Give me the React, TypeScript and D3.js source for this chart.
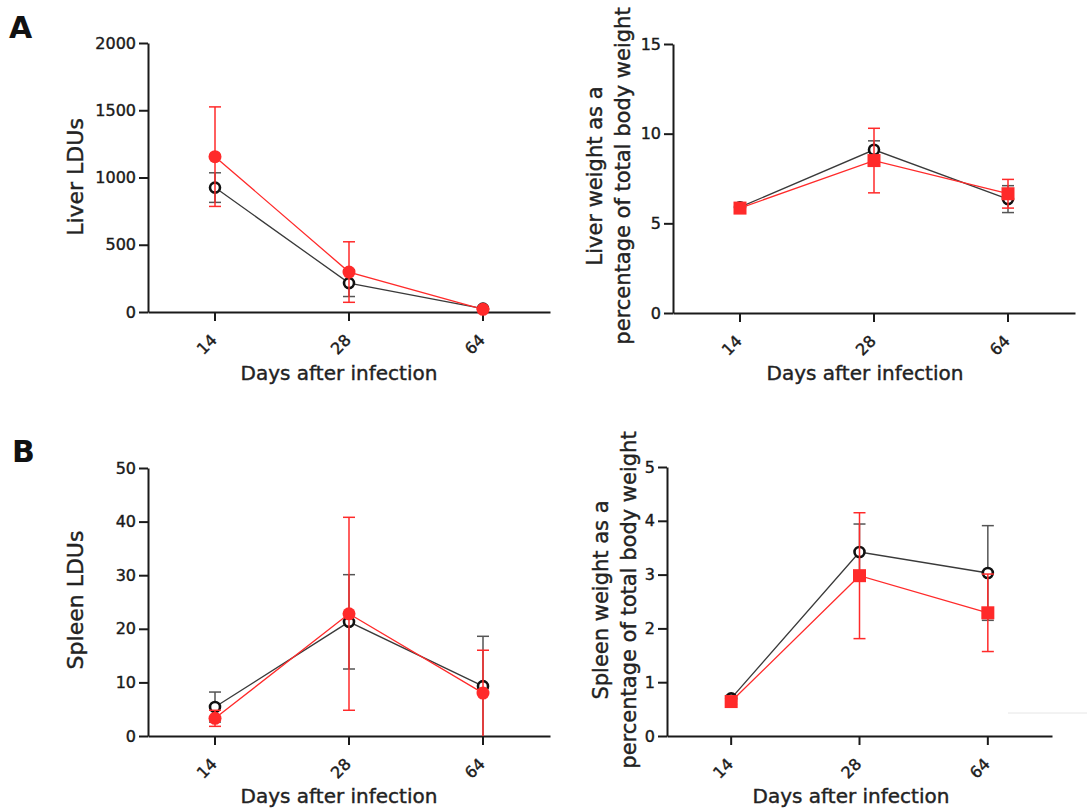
import { useEffect, useRef } from "react";
import * as d3 from "d3";

const days = ["14", "28", "64"];

// A: liver parasite load (LDUs)
const liverLduBlack = [925, 215, 25];
const liverLduBlackErr = [110, 100, 15];
const liverLduRed = [1155, 297, 20];
const liverLduRedErr = [370, 225, 12];

// A: liver weight, % of body weight
const liverWtBlack = [5.9, 9.1, 6.35];
const liverWtBlackErr = [0.15, 0.5, 0.75];
const liverWtRed = [5.85, 8.5, 6.65];
const liverWtRedErr = [0.15, 1.8, 0.8];

// B: spleen parasite load (LDUs)
const spleenLduBlack = [5.4, 21.3, 9.3];
const spleenLduBlackErr = [2.8, 8.8, 9.3];
const spleenLduRed = [3.3, 22.8, 8.0];
const spleenLduRedErr = [1.5, 18, 8];

// B: spleen weight, % of body weight
const spleenWtBlack = [0.7, 3.42, 3.03];
const spleenWtBlackErr = [0.05, 0.52, 0.88];
const spleenWtRed = [0.64, 2.98, 2.29];
const spleenWtRedErr = [0.05, 1.17, 0.72];

const liverLduTicks = [0, 500, 1000, 1500, 2000];
const liverWtTicks = [0, 5, 10, 15];
const spleenLduTicks = [0, 10, 20, 30, 40, 50];
const spleenWtTicks = [0, 1, 2, 3, 4, 5];

const FONT = "'DejaVu Sans', Verdana, sans-serif";
const INK = "#1a1a1a";
const RED = "#ff2a2a";

export default function App() {
    const svgRef = useRef(null);

    useEffect(() => {
        const svg = d3.select(svgRef.current);
        svg.selectAll("*").remove();

        const panels = [
            { x0: 148, x1: 550, yb: 312, yt: 43, ticks: liverLduTicks,
              black: liverLduBlack, blackErr: liverLduBlackErr, red: liverLduRed, redErr: liverLduRedErr,
              redShape: "circle", title: ["Liver LDUs"], titleX: [83], titleY: 177,
              xTitleX: 339, xTitleY: 380 },
            { x0: 673, x1: 1075, yb: 313, yt: 44, ticks: liverWtTicks,
              black: liverWtBlack, blackErr: liverWtBlackErr, red: liverWtRed, redErr: liverWtRedErr,
              redShape: "square", title: ["Liver weight as a", "percentage of total body weight"],
              titleX: [602, 630], titleY: 176, xTitleX: 865, xTitleY: 380 },
            { x0: 148, x1: 550, yb: 736, yt: 468, ticks: spleenLduTicks,
              black: spleenLduBlack, blackErr: spleenLduBlackErr, red: spleenLduRed, redErr: spleenLduRedErr,
              redShape: "circle", title: ["Spleen LDUs"], titleX: [83], titleY: 600,
              xTitleX: 339, xTitleY: 803 },
            { x0: 667, x1: 1052, yb: 736, yt: 467, ticks: spleenWtTicks,
              black: spleenWtBlack, blackErr: spleenWtBlackErr, red: spleenWtRed, redErr: spleenWtRedErr,
              redShape: "square", title: ["Spleen weight as a", "percentage of total body weight"],
              titleX: [608, 636], titleY: 600, xTitleX: 851, xTitleY: 803 },
        ];

        panels.forEach(p => {
            const x = d3.scaleBand().domain(days).range([p.x0, p.x1]);
            const cx = d => x(d) + x.bandwidth() / 2;
            const y = d3.scaleLinear()
                .domain([0, p.ticks[p.ticks.length - 1]])
                .range([p.yb, p.yt]);
            const ymin = y.domain()[0];

            const g = svg.append("g");

            // y axis
            const yAxis = g.append("g")
                .attr("transform", `translate(${p.x0},0)`)
                .call(d3.axisLeft(y).tickValues(p.ticks).tickFormat(d3.format("d"))
                    .tickSize(9).tickSizeOuter(0).tickPadding(3))
            yAxis.attr("font-family", FONT).attr("font-size", 16)
            yAxis.selectAll("path, line").attr("stroke", INK).attr("stroke-width", 2)
            yAxis.selectAll("text").attr("fill", INK).attr("stroke", INK).attr("stroke-width", 0.4)

            // x axis
            const xAxis = g.append("g")
                .attr("transform", `translate(0,${p.yb})`)
                .call(d3.axisBottom(x).tickSize(9).tickSizeOuter(0))
            xAxis.attr("font-family", FONT).attr("font-size", 16)
            xAxis.selectAll("path, line").attr("stroke", INK).attr("stroke-width", 2)
            xAxis.selectAll("text")
                .attr("fill", INK)
                .attr("stroke", INK).attr("stroke-width", 0.4)
                .attr("x", 0).attr("y", 0).attr("dy", null)
                .attr("text-anchor", "end")
                .attr("transform", "translate(3,29) rotate(-45)")

            // x title
            g.append("text")
                .attr("x", p.xTitleX)
                .attr("y", p.xTitleY)
                .attr("text-anchor", "middle")
                .attr("font-family", FONT)
                .attr("font-size", 20)
                .attr("fill", "#222")
                .attr("stroke", "#222").attr("stroke-width", 0.4)
                .text("Days after infection");

            // y title
            p.title.forEach((t, i) => {
                g.append("text")
                    .attr("transform", `translate(${p.titleX[i]},${p.titleY}) rotate(-90)`)
                    .attr("text-anchor", "middle")
                    .attr("font-family", FONT)
                    .attr("font-size", p.title.length > 1 ? 21 : 22)
                    .attr("fill", "#222")
                    .attr("stroke", "#222").attr("stroke-width", 0.4)
                    .text(t);
            });

            const line = d3.line().x(d => cx(d.day)).y(d => y(d.v));

            const series = [
                { vals: p.black, errs: p.blackErr, color: "#3a3a3a", errColor: "#555" },
                { vals: p.red, errs: p.redErr, color: RED, errColor: RED },
            ];

            series.forEach((s, si) => {
                const pts = days.map((d, i) => ({ day: d, v: s.vals[i], e: s.errs[i] }));
                const sg = g.append("g");

                sg.append("path")
                    .datum(pts)
                    .attr("d", line)
                    .attr("fill", "none")
                    .attr("stroke", s.color)
                    .attr("stroke-width", 1.3);

                // error bars
                pts.forEach(d => {
                    const top = y(d.v + d.e);
                    const bot = y(Math.max(ymin, d.v - d.e));
                    const xc = cx(d.day);
                    sg.append("line").attr("x1", xc).attr("x2", xc).attr("y1", top).attr("y2", bot)
                        .attr("stroke", s.errColor).attr("stroke-width", 1.5);
                    sg.append("line").attr("x1", xc - 6).attr("x2", xc + 6).attr("y1", top).attr("y2", top)
                        .attr("stroke", s.errColor).attr("stroke-width", 1.5);
                    if (d.v - d.e > ymin) {
                        sg.append("line").attr("x1", xc - 6).attr("x2", xc + 6).attr("y1", bot).attr("y2", bot)
                            .attr("stroke", s.errColor).attr("stroke-width", 1.5);
                    }
                });

                // markers
                if (si === 0) {
                    sg.selectAll(".mk")
                        .data(pts)
                        .join("circle")
                            .attr("cx", d => cx(d.day))
                            .attr("cy", d => y(d.v))
                            .attr("r", 5)
                            .attr("fill", "white")
                            .attr("stroke", "#111")
                            .attr("stroke-width", 2.6);
                } else if (p.redShape === "circle") {
                    sg.selectAll(".mk")
                        .data(pts)
                        .join("circle")
                            .attr("cx", d => cx(d.day))
                            .attr("cy", d => y(d.v))
                            .attr("r", 6.5)
                            .attr("fill", RED);
                } else {
                    sg.selectAll(".mk")
                        .data(pts)
                        .join("rect")
                            .attr("x", d => cx(d.day) - 6.5)
                            .attr("y", d => y(d.v) - 6.5)
                            .attr("width", 13)
                            .attr("height", 13)
                            .attr("fill", RED);
                }
            });
        });

        // panel letters
        [["A", 9, 38], ["B", 12, 462]].forEach(([t, lx, ly]) => {
            svg.append("text")
                .attr("x", lx)
                .attr("y", ly)
                .attr("font-family", FONT)
                .attr("font-weight", "bold")
                .attr("font-size", 30)
                .attr("fill", "#111")
                .text(t);
        });

        // faint rule at lower right
        svg.append("line")
            .attr("x1", 1008).attr("x2", 1087).attr("y1", 713).attr("y2", 713)
            .attr("stroke", "#e6e6e6").attr("stroke-width", 1);
    }, []);

    return (
        <svg ref={svgRef} width={1087} height={810}
            style={{ position: "absolute", left: 0, top: 0, background: "white" }}></svg>
    );
}
